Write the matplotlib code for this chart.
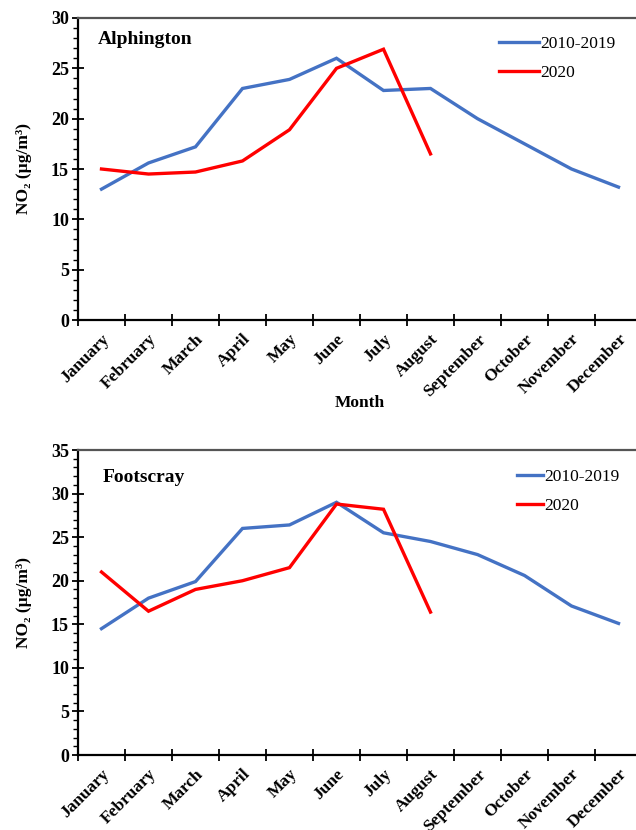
import matplotlib
matplotlib.use("Agg")
import matplotlib.pyplot as plt
from matplotlib.ticker import MultipleLocator
import numpy as np

months = ["January", "February", "March", "April", "May", "June", "July",
          "August", "September", "October", "November", "December"]

alph_2010_2019 = [13.0, 15.6, 17.2, 23.0, 23.9, 26.0, 22.8, 23.0, 20.0, 17.5, 15.0, 13.2]
alph_2020 = [15.0, 14.5, 14.7, 15.8, 18.9, 25.0, 26.9, 16.5]

foot_2010_2019 = [14.5, 18.0, 19.9, 26.0, 26.4, 29.0, 25.5, 24.5, 23.0, 20.6, 17.1, 15.1]
foot_2020 = [21.0, 16.5, 19.0, 20.0, 21.5, 28.8, 28.2, 16.4]

series_labels = ["2010-2019", "2020"]

SERIF = ["Liberation Serif", "DejaVu Serif"]
plt.rcParams['font.family'] = SERIF
BLUE = "#4472C4"
RED = "#FF0000"

fig = plt.figure(figsize=(6.36, 8.30), dpi=100)
W, H = 636, 830


def px_axes(left, top, right, bottom):
    return fig.add_axes([left / W, 1 - bottom / H, (right - left) / W, (bottom - top) / H])


def style(ax, ymax, title, leg_anchor, handlelen, title_xy, xlabel):
    x = np.arange(len(months))
    ax.set_xlim(-0.5, len(months) - 0.5)
    ax.set_ylim(0, ymax)
    ax.set_xticks(np.arange(-0.5, len(months) + 0.5, 1.0))
    ax.set_xticklabels([])
    ax.tick_params(axis='x', which='major', direction='inout', length=9, width=1.3)
    ax.set_xticks(x, minor=True)
    ax.set_xticklabels(months, minor=True, rotation=45, ha='right', va='top',
                       rotation_mode='anchor', fontsize=12.5, fontweight='bold')
    ax.tick_params(axis='x', which='minor', length=0, pad=8)
    ax.yaxis.set_major_locator(MultipleLocator(5))
    ax.yaxis.set_minor_locator(MultipleLocator(1))
    ax.tick_params(axis='y', which='major', direction='inout', length=9, width=1.3,
                   labelsize=13, pad=2)
    ax.tick_params(axis='y', which='minor', direction='out', length=3.5, width=1.0)
    for lab in ax.get_yticklabels():
        lab.set_fontweight('bold')
    for s in ['left', 'bottom']:
        ax.spines[s].set_linewidth(1.6)
        ax.spines[s].set_color('black')
    ax.spines['top'].set_color('#555555')
    ax.spines['top'].set_linewidth(1.6)
    ax.spines['right'].set_visible(False)
    ax.set_ylabel("NO₂ (µg/m³)", fontsize=12.5, fontweight='bold', labelpad=14)
    if xlabel:
        ax.set_xlabel("Month", fontsize=12.5, fontweight='bold', labelpad=-3)
    ax.text(title_xy[0], title_xy[1], title, transform=ax.transAxes, fontsize=14,
            fontweight='bold', va='center', ha='left')
    ax.legend(loc='upper left', bbox_to_anchor=leg_anchor, frameon=False,
              fontsize=12.5, handlelength=handlelen, handletextpad=0.05,
              labelspacing=0.75, borderaxespad=0, borderpad=0)


x = np.arange(len(months))

ax1 = px_axes(78, 18, 642, 320)
ax1.plot(x, alph_2010_2019, color=BLUE, lw=2.4, label=series_labels[0], solid_joinstyle='miter')
ax1.plot(x[:len(alph_2020)], alph_2020, color=RED, lw=2.4, label=series_labels[1], solid_joinstyle='miter')
style(ax1, 30, "Alphington", ((499 - 78) / 564, (320 - 36) / 302), 2.3,
      ((98 - 78) / 564, (320 - 40) / 302), True)

ax2 = px_axes(78, 450, 642, 755)
ax2.plot(x, foot_2010_2019, color=BLUE, lw=2.4, label=series_labels[0], solid_joinstyle='miter')
ax2.plot(x[:len(foot_2020)], foot_2020, color=RED, lw=2.4, label=series_labels[1], solid_joinstyle='miter')
style(ax2, 35, "Footscray", ((517 - 78) / 564, (755 - 469) / 305), 1.5,
      ((103 - 78) / 564, (755 - 477) / 305), False)

fig.savefig("out.png", dpi=100)
